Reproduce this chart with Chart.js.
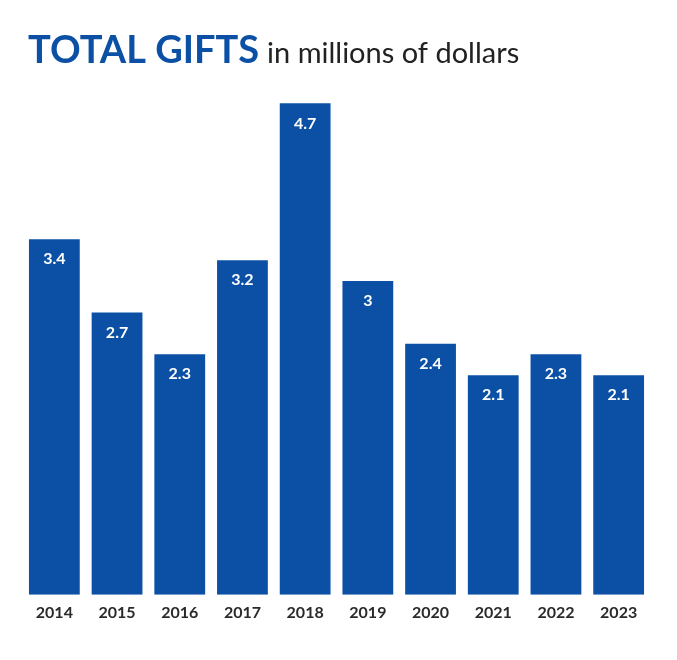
<!DOCTYPE html>
<html lang="en">
  <head>
    <meta charset="UTF-8" />
    <title>Total Gifts</title>
    <script src="https://cdn.jsdelivr.net/npm/chart.js"></script>
    <style>
      body { margin: 0; background: #fff; }
      #wrap { width: 677px; height: 660px; }
    </style>
  </head>
  <body>
    <div id="wrap"><canvas id="myChart"></canvas></div>

    <script>
      const years = ['2014', '2015', '2016', '2017', '2018', '2019', '2020', '2021', '2022', '2023'];
      const gifts = [3.4, 2.7, 2.3, 3.2, 4.7, 3, 2.4, 2.1, 2.3, 2.1];

      const BLUE = '#0b50a4';

      // title drawn straight on the canvas
      const titlePlugin = {
        id: 'titleText',
        afterDraw(chart) {
          const ctx = chart.ctx;
          ctx.save();
          ctx.textBaseline = 'alphabetic';
          ctx.textAlign = 'left';
          ctx.fillStyle = BLUE;
          ctx.font = 'bold 38px Lato';
          ctx.fillText('TOTAL GIFTS', 28, 63);
          const w = ctx.measureText('TOTAL GIFTS').width;
          ctx.fillStyle = '#222';
          ctx.font = '29px Lato';
          ctx.fillText('in millions of dollars', 28 + w + 8, 63);
          ctx.restore();
        }
      };

      // white value labels inside top of each bar
      const valuePlugin = {
        id: 'values',
        afterDatasetsDraw(chart) {
          const ctx = chart.ctx;
          const meta = chart.getDatasetMeta(0);
          ctx.save();
          ctx.fillStyle = '#fff';
          ctx.font = 'bold 16px Lato';
          ctx.textAlign = 'center';
          ctx.textBaseline = 'middle';
          meta.data.forEach((bar, i) => {
            ctx.fillText(String(gifts[i]), bar.x, bar.y + 20);
          });
          ctx.restore();
        }
      };

      const ctx = document.getElementById('myChart').getContext('2d');
      new Chart(ctx, {
        type: 'bar',
        data: {
          labels: years,
          datasets: [{
            data: gifts,
            backgroundColor: BLUE,
            borderWidth: 0,
            categoryPercentage: 1,
            barPercentage: 0.81
          }]
        },
        options: {
          responsive: true,
          maintainAspectRatio: false,
          animation: false,
          layout: { padding: { top: 72, left: 23, right: 27, bottom: 30 } },
          plugins: { legend: { display: false }, tooltip: { enabled: false } },
          scales: {
            y: { display: false, min: 0, max: 5 },
            x: {
              grid: { display: false, drawTicks: false },
              border: { display: false },
              ticks: {
                color: '#2a2a2a',
                font: { family: 'Lato', size: 16, weight: 'bold' },
                padding: 8
              }
            }
          }
        },
        plugins: [titlePlugin, valuePlugin]
      });
    </script>
  </body>
</html>
